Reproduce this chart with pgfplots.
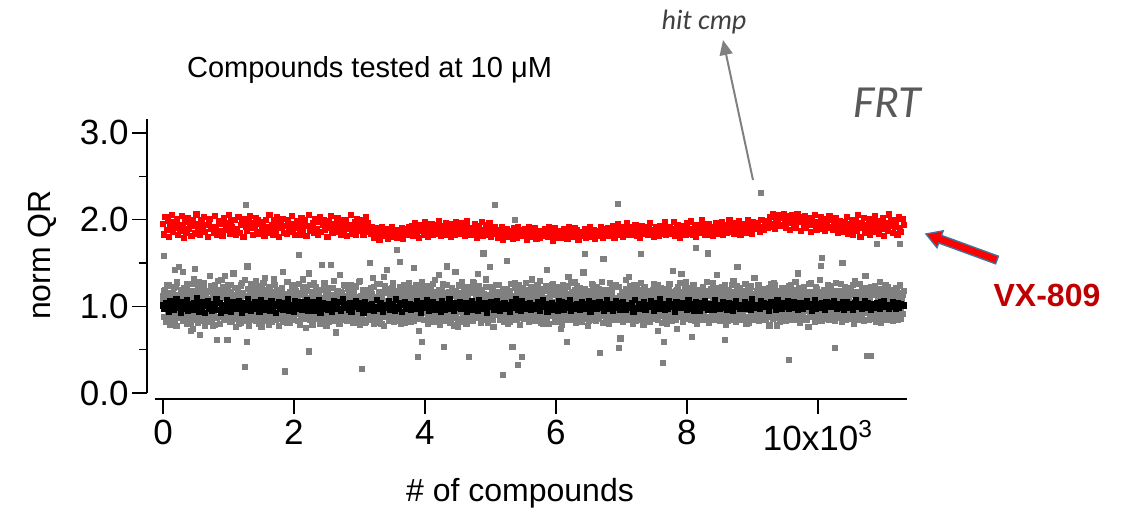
\documentclass[border=0pt]{standalone}
\usepackage{pgfplots}
\pgfplotsset{compat=1.18}
\usepackage{pgfplotstable}
\usepackage{fontspec}
\setmainfont{Liberation Sans}
\newfontfamily\calibri{Carlito}
\usetikzlibrary{arrows.meta}
\definecolor{ptgray}{RGB}{128,128,128}
\definecolor{ptred}{RGB}{255,0,0}
\definecolor{vxred}{RGB}{192,0,0}
\definecolor{arrowblue}{RGB}{65,113,156}
\definecolor{hitgray}{RGB}{64,64,64}
\definecolor{frtgray}{RGB}{89,89,89}

% gray: all compounds (x = index * 11.3)
\pgfplotstableread[row sep=\\]{
y\\
1.05\\1.58\\1.18\\0.98\\1.12\\0.85\\1.24\\1.01\\0.94\\1.09\\
0.93\\1.08\\0.87\\1.15\\0.99\\1.21\\1.42\\1.06\\0.96\\1.27\\
0.90\\1.11\\1.45\\1.03\\1.19\\0.93\\1.07\\1.40\\0.88\\1.14\\
1.00\\0.84\\1.23\\0.97\\1.10\\0.89\\1.17\\1.02\\0.72\\1.26\\
0.95\\1.09\\0.86\\1.43\\1.04\\0.92\\1.13\\0.81\\1.28\\0.99\\
0.67\\1.06\\0.90\\1.16\\0.83\\1.22\\1.01\\0.94\\1.12\\0.87\\
1.05\\1.18\\0.96\\1.35\\0.85\\1.08\\1.00\\0.78\\1.15\\0.93\\
1.25\\1.04\\0.88\\0.61\\1.11\\1.19\\0.97\\1.07\\0.91\\1.30\\
1.02\\0.89\\1.14\\0.98\\1.20\\0.84\\1.06\\0.61\\1.24\\0.95\\
1.10\\0.82\\1.17\\1.03\\0.92\\1.38\\0.99\\1.13\\0.86\\1.08\\
0.94\\1.21\\1.00\\0.80\\1.15\\1.05\\0.90\\1.27\\0.97\\1.12\\
0.87\\0.30\\2.17\\0.59\\1.46\\1.09\\0.93\\1.18\\1.02\\0.85\\
1.23\\0.99\\1.07\\0.91\\1.14\\0.83\\1.29\\1.04\\0.96\\1.11\\
0.88\\1.16\\1.01\\0.76\\1.20\\0.94\\1.08\\0.86\\1.33\\1.03\\
0.97\\1.13\\0.89\\1.22\\1.06\\0.92\\1.17\\0.82\\1.10\\1.00\\
1.26\\0.95\\1.05\\0.84\\1.19\\1.02\\0.90\\1.14\\0.98\\1.08\\
0.87\\1.21\\1.40\\0.93\\1.11\\0.25\\1.04\\0.81\\1.28\\0.96\\
1.12\\1.00\\0.88\\1.16\\0.94\\1.07\\0.85\\1.24\\1.02\\0.91\\
1.18\\0.97\\1.09\\0.83\\1.59\\1.05\\0.92\\1.15\\0.99\\1.31\\
0.89\\1.13\\1.03\\0.95\\1.20\\0.86\\1.10\\0.48\\1.01\\1.25\\
0.93\\1.06\\0.79\\1.17\\0.98\\1.12\\0.90\\1.22\\1.04\\0.87\\
1.14\\0.96\\1.08\\0.84\\1.19\\1.48\\1.00\\0.92\\1.27\\1.05\\
0.88\\1.11\\0.97\\1.16\\0.82\\1.09\\1.02\\1.48\\0.94\\1.21\\
1.06\\0.85\\1.13\\0.99\\0.70\\1.18\\0.91\\1.07\\1.01\\1.36\\
0.95\\1.15\\0.87\\1.10\\1.03\\0.93\\1.24\\0.98\\1.12\\0.83\\
1.08\\0.96\\1.20\\0.89\\1.14\\1.00\\0.86\\1.17\\0.94\\1.05\\
1.23\\0.90\\1.11\\0.97\\1.06\\0.84\\1.29\\1.02\\0.92\\0.28\\
1.16\\0.99\\1.09\\0.81\\1.13\\1.04\\0.95\\1.19\\0.88\\1.07\\
1.50\\0.93\\1.14\\1.01\\0.86\\1.22\\0.97\\1.10\\0.91\\1.26\\
1.03\\0.87\\1.17\\0.96\\1.08\\0.80\\1.12\\1.00\\1.34\\0.94\\
1.06\\1.19\\0.89\\1.42\\1.02\\0.92\\1.15\\0.85\\1.09\\0.98\\
1.21\\0.95\\1.04\\0.90\\1.13\\0.83\\1.65\\1.07\\0.97\\1.18\\
1.51\\0.88\\1.11\\1.00\\0.93\\1.24\\1.05\\0.86\\1.16\\0.94\\
1.10\\0.99\\1.27\\0.91\\1.06\\0.82\\1.14\\1.02\\0.96\\1.44\\
0.89\\1.20\\1.03\\0.95\\0.42\\1.12\\0.87\\1.08\\1.00\\1.23\\
0.59\\0.93\\1.15\\0.84\\1.09\\0.97\\1.18\\1.04\\0.90\\1.13\\
1.01\\0.86\\1.22\\0.96\\1.07\\0.92\\1.11\\1.30\\0.99\\1.16\\
0.88\\1.05\\0.94\\1.19\\0.81\\1.10\\1.02\\0.95\\1.26\\1.08\\
0.53\\0.91\\1.14\\1.00\\1.46\\0.87\\1.17\\0.97\\1.06\\0.84\\
1.21\\1.03\\0.93\\1.12\\0.98\\1.40\\0.89\\1.09\\1.01\\0.76\\
1.15\\0.94\\1.07\\0.85\\1.24\\1.02\\0.96\\1.18\\0.90\\1.11\\
1.04\\0.88\\1.13\\0.42\\0.99\\1.20\\0.92\\1.06\\0.83\\1.28\\
1.00\\1.16\\0.95\\1.09\\0.87\\1.14\\1.37\\0.97\\1.05\\0.91\\
1.19\\1.02\\0.86\\1.61\\1.10\\0.94\\1.22\\0.98\\1.07\\0.89\\
1.13\\0.96\\1.45\\1.04\\0.92\\1.17\\0.84\\1.08\\1.00\\2.17\\
1.25\\0.90\\1.11\\0.97\\1.06\\0.88\\1.15\\1.02\\0.93\\0.21\\
1.09\\0.99\\1.20\\0.85\\1.14\\1.52\\0.95\\1.07\\0.82\\1.18\\
1.03\\0.91\\0.53\\1.12\\0.96\\2.00\\1.27\\1.01\\0.89\\1.10\\
0.32\\0.94\\1.16\\1.05\\0.87\\0.42\\1.21\\0.98\\1.08\\0.92\\
1.14\\1.00\\0.86\\1.19\\0.95\\1.06\\0.90\\1.13\\1.03\\1.31\\
0.97\\1.09\\0.84\\1.17\\1.01\\0.93\\1.24\\0.88\\1.11\\0.99\\
1.06\\0.92\\1.15\\0.80\\1.20\\1.04\\0.96\\1.10\\0.87\\1.42\\
1.02\\1.18\\0.94\\1.07\\0.89\\1.13\\0.99\\1.26\\0.91\\1.05\\
0.85\\1.16\\1.00\\0.95\\1.22\\1.08\\0.90\\1.12\\0.74\\1.03\\
1.19\\0.96\\1.09\\0.87\\1.14\\1.01\\0.59\\1.23\\0.93\\1.06\\
0.98\\1.11\\0.84\\1.17\\1.04\\0.92\\1.28\\0.97\\1.08\\0.89\\
1.15\\1.00\\0.94\\1.21\\0.86\\1.10\\1.03\\0.95\\1.39\\1.07\\
1.60\\0.91\\1.13\\0.99\\1.05\\0.83\\1.18\\1.02\\0.96\\1.12\\
0.88\\1.24\\1.06\\0.93\\1.16\\1.00\\0.87\\1.09\\0.97\\1.20\\
0.46\\1.04\\0.90\\1.14\\1.01\\1.55\\1.11\\0.95\\1.07\\0.85\\
1.19\\0.98\\1.10\\0.92\\1.27\\1.03\\0.89\\1.15\\0.96\\1.08\\
1.00\\0.86\\1.22\\1.05\\0.94\\2.18\\0.52\\1.12\\0.63\\0.99\\
1.17\\0.91\\1.06\\0.97\\1.13\\0.84\\1.20\\1.02\\0.95\\1.34\\
1.09\\0.88\\1.16\\1.01\\0.93\\1.11\\0.98\\1.25\\0.87\\1.04\\
0.96\\1.14\\1.03\\0.90\\1.19\\1.07\\1.60\\0.85\\1.10\\1.00\\
1.22\\0.94\\1.08\\0.97\\1.15\\0.82\\1.12\\1.04\\0.92\\1.18\\
0.99\\1.06\\0.89\\1.26\\1.01\\0.95\\1.13\\0.88\\1.09\\0.72\\
1.16\\1.02\\0.93\\1.11\\0.97\\0.35\\1.20\\0.59\\1.05\\0.90\\
1.14\\0.86\\1.07\\0.99\\1.23\\1.03\\0.91\\1.17\\0.95\\1.41\\
1.08\\0.96\\1.12\\0.84\\1.19\\1.00\\0.92\\1.10\\0.98\\1.27\\
0.89\\1.15\\1.04\\0.93\\1.09\\0.87\\1.21\\1.01\\0.95\\1.13\\
1.06\\0.91\\1.18\\0.97\\1.11\\0.65\\1.02\\1.24\\0.88\\1.07\\
1.67\\0.99\\1.14\\0.85\\1.10\\1.03\\0.94\\1.19\\0.92\\1.05\\
1.16\\0.90\\1.08\\1.00\\0.96\\1.28\\1.61\\0.87\\1.12\\0.98\\
1.04\\1.20\\0.93\\1.09\\0.86\\1.15\\1.01\\0.95\\1.36\\1.07\\
0.91\\1.13\\0.99\\1.05\\0.88\\1.22\\1.02\\0.94\\1.17\\0.61\\
1.10\\0.97\\1.14\\0.83\\1.19\\1.04\\0.92\\1.08\\1.00\\1.25\\
0.95\\1.11\\0.89\\1.16\\1.03\\0.93\\1.45\\0.98\\1.07\\0.86\\
1.21\\1.01\\0.94\\1.12\\0.90\\1.06\\0.97\\1.18\\0.84\\1.09\\
1.02\\0.96\\1.15\\0.88\\1.23\\1.05\\0.92\\1.10\\0.99\\1.33\\
0.93\\1.14\\1.00\\0.87\\1.08\\1.19\\0.95\\1.04\\2.31\\1.12\\
0.91\\1.17\\0.98\\1.06\\0.85\\1.13\\1.02\\0.94\\1.20\\1.07\\
0.89\\1.10\\1.26\\0.96\\1.03\\0.92\\1.15\\0.99\\1.08\\0.78\\
1.18\\1.01\\0.93\\1.12\\0.97\\1.05\\0.86\\1.21\\1.04\\0.95\\
1.09\\0.90\\1.16\\0.98\\1.13\\1.02\\0.38\\0.94\\1.24\\1.06\\
0.88\\1.11\\1.00\\1.19\\0.92\\1.07\\0.96\\1.14\\1.38\\1.03\\
0.97\\1.15\\0.87\\1.10\\1.01\\0.93\\1.22\\0.99\\1.08\\0.85\\
1.17\\1.04\\0.95\\1.12\\0.90\\1.27\\1.02\\0.96\\1.09\\0.88\\
1.13\\1.00\\0.94\\1.20\\1.05\\0.91\\1.16\\0.98\\1.11\\1.47\\
1.56\\0.92\\1.07\\0.97\\1.14\\0.86\\1.19\\1.03\\0.95\\1.10\\
1.01\\1.23\\0.90\\1.08\\0.96\\1.15\\0.99\\1.05\\0.52\\1.12\\
0.94\\1.18\\1.02\\0.88\\1.10\\0.97\\1.26\\1.06\\1.50\\0.93\\
1.14\\0.99\\1.07\\0.85\\1.21\\1.03\\0.95\\1.11\\0.91\\1.17\\
1.00\\0.87\\1.13\\1.05\\0.96\\1.29\\0.93\\1.09\\1.02\\0.89\\
1.16\\0.98\\1.08\\0.92\\1.19\\1.04\\0.95\\1.12\\0.84\\1.35\\
1.06\\0.43\\1.15\\0.97\\1.10\\0.90\\0.43\\1.22\\1.01\\0.94\\
1.13\\1.03\\0.88\\1.17\\0.99\\1.72\\1.07\\0.92\\1.20\\1.05\\
0.96\\1.11\\1.02\\0.86\\1.14\\0.98\\1.24\\1.04\\0.93\\1.09\\
1.18\\0.95\\1.06\\1.00\\0.90\\1.16\\1.08\\0.97\\1.12\\0.87\\
1.03\\1.21\\0.94\\1.10\\1.00\\1.15\\1.72\\0.98\\1.07\\1.13\\
}\grayT

% gray, second half of the compounds (x = index * 14.15 + 6)
\pgfplotstableread[row sep=\\]{
y\\
1.12\\0.88\\1.19\\0.82\\1.09\\0.91\\1.25\\0.79\\1.15\\0.85\\
0.90\\1.10\\0.84\\1.22\\0.77\\1.28\\0.87\\1.13\\0.92\\1.17\\
1.08\\0.83\\1.21\\0.89\\1.14\\0.80\\1.26\\0.86\\1.11\\0.93\\
0.81\\1.18\\0.74\\1.32\\0.88\\1.16\\0.84\\1.24\\0.90\\1.10\\
1.20\\0.86\\1.13\\0.91\\1.27\\0.78\\1.09\\0.85\\1.17\\0.82\\
0.89\\1.23\\0.83\\1.11\\0.92\\1.15\\0.79\\1.19\\0.87\\1.29\\
1.14\\0.80\\1.10\\0.88\\1.22\\0.84\\1.35\\0.90\\1.12\\0.86\\
0.85\\1.16\\0.91\\1.25\\0.82\\1.09\\0.88\\1.21\\0.76\\1.13\\
1.18\\0.92\\1.11\\0.81\\1.24\\0.87\\1.15\\0.83\\1.30\\0.89\\
0.84\\1.20\\0.78\\1.12\\0.90\\1.26\\0.86\\1.08\\0.93\\1.17\\
1.10\\0.87\\1.23\\0.80\\1.16\\0.92\\1.13\\0.84\\1.27\\0.89\\
0.83\\1.19\\0.88\\1.09\\0.79\\1.22\\0.91\\1.15\\0.85\\1.31\\
1.25\\0.90\\1.12\\0.86\\1.18\\0.77\\1.10\\0.93\\1.21\\0.82\\
0.88\\1.14\\0.84\\1.28\\0.90\\1.11\\0.81\\1.17\\0.87\\1.24\\
1.09\\0.85\\1.20\\0.92\\1.13\\0.83\\1.26\\0.79\\1.15\\0.89\\
0.91\\1.22\\0.86\\1.12\\0.75\\1.18\\0.88\\1.38\\0.84\\1.10\\
1.16\\0.82\\1.27\\0.89\\1.11\\0.86\\1.19\\0.91\\1.14\\0.80\\
0.87\\1.10\\0.92\\1.23\\0.84\\1.15\\0.78\\1.21\\0.90\\1.13\\
1.21\\0.89\\1.08\\0.83\\1.29\\0.88\\1.12\\0.85\\1.18\\0.92\\
0.80\\1.17\\0.87\\1.14\\0.91\\1.25\\0.84\\1.10\\0.86\\1.20\\
1.13\\0.91\\1.24\\0.85\\1.09\\0.81\\1.16\\0.88\\1.22\\0.84\\
0.86\\1.28\\0.79\\1.12\\0.89\\1.19\\0.93\\1.15\\0.82\\1.11\\
1.18\\0.84\\1.14\\0.90\\1.21\\0.87\\1.33\\0.80\\1.10\\0.91\\
0.92\\1.11\\0.85\\1.26\\0.81\\1.13\\0.88\\1.17\\0.77\\1.23\\
1.15\\0.88\\1.20\\0.83\\1.12\\0.90\\1.09\\0.86\\1.27\\0.82\\
0.89\\1.16\\0.84\\1.10\\0.92\\1.22\\0.80\\1.14\\0.87\\1.19\\
1.24\\0.81\\1.13\\0.88\\1.17\\0.85\\1.21\\0.91\\1.11\\0.86\\
0.83\\1.09\\0.90\\1.25\\0.86\\1.15\\0.72\\1.12\\0.89\\1.28\\
1.11\\0.93\\1.18\\0.84\\1.23\\0.80\\1.14\\0.87\\1.20\\0.90\\
0.88\\1.26\\0.82\\1.16\\0.91\\1.10\\0.85\\1.36\\0.79\\1.13\\
1.19\\0.86\\1.12\\0.92\\1.15\\0.83\\1.25\\0.89\\1.09\\0.81\\
0.90\\1.21\\0.87\\1.14\\0.78\\1.18\\0.92\\1.11\\0.84\\1.24\\
1.10\\0.82\\1.28\\0.89\\1.13\\0.86\\1.17\\0.80\\1.22\\0.88\\
0.85\\1.15\\0.91\\1.20\\0.83\\1.27\\0.87\\1.12\\0.90\\1.16\\
1.23\\0.88\\1.11\\0.81\\1.19\\0.92\\1.14\\0.85\\1.31\\0.84\\
0.81\\1.13\\0.86\\1.09\\0.89\\1.22\\0.76\\1.17\\0.91\\1.12\\
1.16\\0.90\\1.25\\0.84\\1.10\\0.87\\1.20\\0.82\\1.15\\0.93\\
0.87\\1.19\\0.80\\1.13\\0.92\\1.26\\0.85\\1.11\\0.88\\1.21\\
1.12\\0.84\\1.17\\0.90\\1.24\\0.79\\1.09\\0.91\\1.18\\0.86\\
0.92\\1.27\\0.88\\1.15\\0.82\\1.12\\0.90\\1.22\\0.85\\1.10\\
1.20\\0.83\\1.14\\0.89\\1.11\\0.86\\1.29\\0.81\\1.16\\0.90\\
0.84\\1.10\\0.91\\1.23\\0.87\\1.18\\0.80\\1.13\\0.93\\1.25\\
1.15\\0.89\\1.21\\0.82\\1.16\\0.92\\1.12\\0.88\\1.09\\0.85\\
0.79\\1.24\\0.86\\1.17\\0.90\\1.11\\0.84\\1.34\\0.88\\1.14\\
1.27\\0.91\\1.10\\0.85\\1.19\\0.81\\1.23\\0.87\\1.13\\0.83\\
0.88\\1.16\\0.82\\1.12\\0.93\\1.20\\0.86\\1.15\\0.77\\1.18\\
1.11\\0.85\\1.26\\0.90\\1.14\\0.88\\1.17\\0.83\\1.22\\0.92\\
0.86\\1.13\\0.89\\1.28\\0.81\\1.09\\0.91\\1.19\\0.84\\1.12\\
1.18\\0.80\\1.15\\0.87\\1.21\\0.90\\1.10\\0.85\\1.25\\0.88\\
0.91\\1.22\\0.84\\1.11\\0.86\\1.16\\0.82\\1.14\\0.89\\1.30\\
1.14\\0.87\\1.09\\0.92\\1.23\\0.84\\1.18\\0.80\\1.12\\0.90\\
0.83\\1.20\\0.88\\1.15\\0.91\\1.27\\0.86\\1.10\\0.79\\1.17\\
1.22\\0.90\\1.13\\0.85\\1.16\\0.82\\1.11\\0.89\\1.19\\0.86\\
0.87\\1.12\\0.93\\1.24\\0.84\\1.14\\0.89\\1.21\\0.81\\1.09\\
1.17\\0.86\\1.20\\0.80\\1.13\\0.91\\1.26\\0.87\\1.15\\0.83\\
0.90\\1.10\\0.85\\1.18\\0.74\\1.22\\0.88\\1.13\\0.92\\1.37\\
1.12\\0.82\\1.16\\0.89\\1.28\\0.86\\1.11\\0.90\\1.21\\0.84\\
0.88\\1.25\\0.91\\1.09\\0.83\\1.17\\0.80\\1.14\\0.87\\1.19\\
1.15\\0.92\\1.22\\0.84\\1.10\\0.88\\1.18\\0.85\\1.13\\0.81\\
0.85\\1.14\\0.87\\1.27\\0.90\\1.12\\0.84\\1.20\\0.89\\1.11\\
1.21\\0.83\\1.10\\0.91\\1.16\\0.86\\1.24\\0.79\\1.18\\0.88\\
0.92\\1.17\\0.84\\1.13\\0.87\\1.29\\0.90\\1.09\\0.82\\1.23\\
1.13\\0.89\\1.19\\0.85\\1.12\\0.92\\1.15\\0.88\\1.26\\0.80\\
0.86\\1.22\\0.81\\1.16\\0.91\\1.10\\0.87\\1.33\\0.84\\1.14\\
1.18\\0.90\\1.25\\0.83\\1.11\\0.85\\1.20\\0.92\\1.12\\0.87\\
0.84\\1.09\\0.88\\1.21\\0.78\\1.17\\0.91\\1.14\\0.86\\1.27\\
1.24\\0.87\\1.13\\0.90\\1.18\\0.82\\1.10\\0.85\\1.16\\0.91\\
0.89\\1.15\\0.83\\1.11\\0.92\\1.23\\0.85\\1.19\\0.88\\1.12\\
1.10\\0.84\\1.28\\0.88\\1.14\\0.90\\1.21\\0.81\\1.17\\0.86\\
0.91\\1.20\\0.86\\1.15\\0.84\\1.12\\0.76\\1.26\\0.90\\1.09\\
1.16\\0.88\\1.11\\0.82\\1.22\\0.87\\1.14\\0.91\\1.30\\0.85\\
0.83\\1.13\\0.90\\1.19\\0.86\\1.10\\0.92\\1.24\\0.84\\1.17\\
1.21\\0.86\\1.15\\0.89\\1.09\\0.83\\1.27\\0.88\\1.12\\0.90\\
0.87\\1.18\\0.82\\1.14\\0.91\\1.22\\0.85\\1.11\\0.89\\1.16\\
1.13\\0.91\\1.20\\0.86\\1.25\\0.80\\1.17\\0.87\\1.10\\0.84\\
0.90\\1.26\\0.85\\1.12\\0.88\\1.15\\0.83\\1.21\\0.92\\1.14\\
1.19\\0.84\\1.10\\0.91\\1.16\\0.89\\1.13\\0.86\\1.23\\0.82\\
0.86\\1.12\\0.89\\1.28\\0.81\\1.18\\0.90\\1.15\\0.85\\1.20\\
1.14\\0.92\\1.22\\0.84\\1.11\\0.87\\1.19\\0.83\\1.16\\0.89\\
0.88\\1.17\\0.85\\1.13\\0.90\\1.24\\0.86\\1.10\\0.91\\1.18\\
}\grayU

% black: controls (x = index * 22.66)
\pgfplotstableread[row sep=\\]{
y\\
1.01\\0.97\\1.04\\0.99\\0.94\\1.06\\1.00\\0.96\\1.03\\1.08\\
0.98\\1.02\\0.93\\1.05\\1.00\\0.97\\1.07\\0.95\\1.01\\1.03\\
0.96\\1.04\\0.99\\1.09\\0.94\\1.02\\0.98\\1.05\\0.92\\1.00\\
1.06\\0.97\\1.03\\0.95\\1.01\\0.99\\1.08\\0.96\\1.04\\0.93\\
1.02\\1.00\\0.95\\1.07\\0.98\\1.03\\0.94\\1.05\\0.99\\1.01\\
0.97\\1.06\\1.00\\0.93\\1.04\\0.96\\1.02\\1.08\\0.98\\0.95\\
1.03\\0.99\\1.05\\0.97\\1.01\\0.94\\1.07\\1.00\\0.96\\1.04\\
0.98\\1.02\\0.95\\1.06\\0.99\\1.03\\0.92\\1.01\\1.05\\0.97\\
1.00\\0.96\\1.04\\0.98\\1.08\\0.95\\1.02\\0.99\\0.94\\1.06\\
1.03\\0.97\\1.01\\1.05\\0.96\\1.00\\0.98\\1.07\\0.95\\1.02\\
0.99\\1.05\\0.95\\1.02\\0.98\\1.07\\0.93\\1.01\\1.04\\0.97\\
1.01\\0.96\\1.03\\1.00\\0.94\\1.06\\0.99\\1.02\\0.97\\1.05\\
0.95\\1.08\\0.98\\1.01\\1.03\\0.96\\1.04\\0.94\\1.00\\1.02\\
1.06\\0.99\\0.97\\1.04\\1.01\\0.93\\1.05\\0.98\\1.02\\0.96\\
1.00\\1.03\\0.95\\0.99\\1.07\\0.97\\1.01\\1.04\\0.94\\1.02\\
0.98\\1.01\\1.06\\0.96\\1.00\\1.03\\0.95\\1.08\\0.99\\0.97\\
1.04\\0.94\\1.02\\1.05\\0.97\\1.00\\1.03\\0.96\\1.01\\0.99\\
0.97\\1.06\\0.99\\1.02\\0.93\\1.04\\0.98\\1.01\\1.07\\0.95\\
1.02\\0.98\\1.05\\0.96\\1.03\\0.99\\1.00\\0.94\\1.06\\1.01\\
0.96\\1.03\\1.00\\1.08\\0.97\\1.02\\0.95\\1.04\\0.98\\1.00\\
1.05\\0.97\\1.01\\0.99\\1.04\\0.94\\1.02\\0.98\\1.06\\0.96\\
1.00\\1.03\\0.95\\1.07\\0.98\\1.01\\0.97\\1.04\\0.93\\1.02\\
0.99\\1.05\\1.02\\0.96\\1.00\\1.06\\0.98\\0.95\\1.03\\1.01\\
1.04\\0.97\\0.99\\1.02\\0.94\\1.05\\1.01\\0.98\\1.08\\0.96\\
1.01\\0.95\\1.06\\1.00\\1.03\\0.97\\0.99\\1.04\\0.96\\1.02\\
0.97\\1.02\\0.98\\1.05\\0.95\\1.01\\1.07\\0.99\\1.03\\0.94\\
1.03\\0.99\\1.04\\0.96\\1.02\\0.98\\0.95\\1.06\\1.00\\1.05\\
0.96\\1.01\\0.98\\1.04\\1.07\\0.95\\1.02\\0.97\\1.00\\1.03\\
1.02\\0.96\\1.05\\0.99\\0.97\\1.03\\1.00\\1.06\\0.94\\1.01\\
0.99\\1.04\\0.97\\1.01\\1.05\\0.98\\1.03\\0.95\\1.02\\1.07\\
1.00\\0.97\\1.03\\0.95\\1.01\\1.06\\0.98\\1.02\\0.96\\1.04\\
1.05\\0.99\\0.96\\1.02\\0.98\\1.00\\1.04\\0.94\\1.07\\0.97\\
0.98\\1.03\\1.01\\0.97\\1.05\\0.96\\1.02\\0.99\\1.00\\1.06\\
1.02\\0.95\\1.04\\1.00\\0.97\\1.08\\0.99\\1.03\\0.96\\1.01\\
0.97\\1.06\\0.99\\1.03\\1.01\\0.94\\1.05\\0.98\\1.02\\1.00\\
1.04\\0.98\\1.02\\0.96\\1.07\\1.00\\0.97\\1.03\\0.95\\1.05\\
0.99\\1.01\\0.95\\1.04\\0.98\\1.06\\1.02\\0.96\\1.03\\0.97\\
1.03\\0.96\\1.07\\0.99\\1.02\\0.97\\1.00\\1.05\\0.98\\1.04\\
0.96\\1.04\\1.00\\1.02\\0.95\\1.03\\1.06\\0.99\\1.01\\0.97\\
1.01\\0.99\\1.05\\0.97\\1.03\\1.00\\0.96\\1.08\\1.02\\0.98\\
0.98\\1.02\\0.97\\1.06\\1.00\\1.04\\0.99\\1.01\\0.95\\1.03\\
1.05\\1.00\\1.02\\0.96\\1.07\\0.98\\1.03\\0.97\\1.04\\1.01\\
0.99\\1.06\\0.97\\1.03\\0.98\\1.05\\1.00\\1.02\\0.96\\1.04\\
1.02\\0.97\\1.04\\1.00\\1.06\\0.99\\1.03\\0.95\\1.01\\1.07\\
0.97\\1.03\\1.01\\0.98\\1.04\\1.02\\0.96\\1.05\\1.00\\0.99\\
1.04\\0.99\\1.06\\1.02\\0.97\\1.03\\1.01\\0.98\\1.05\\0.96\\
1.00\\1.05\\0.98\\1.03\\1.01\\0.96\\1.04\\1.07\\0.99\\1.02\\
1.03\\0.97\\1.02\\1.06\\0.98\\1.04\\1.00\\0.96\\1.03\\1.01\\
0.98\\1.04\\1.00\\0.97\\1.05\\1.01\\1.06\\0.99\\1.02\\0.97\\
1.02\\0.99\\1.05\\1.01\\0.97\\1.04\\0.98\\1.03\\1.00\\1.01\\
}\blackT

% red: VX-809 (x = index * 18.88)
\pgfplotstableread[row sep=\\]{
y\\
1.95\\1.83\\2.03\\1.88\\1.99\\1.80\\1.93\\2.05\\1.86\\1.97\\
1.90\\2.01\\1.82\\1.94\\1.87\\2.04\\1.91\\1.79\\1.98\\1.85\\
2.02\\1.89\\1.96\\1.81\\2.00\\1.93\\1.84\\2.06\\1.88\\1.95\\
1.83\\1.99\\1.91\\2.03\\1.86\\1.94\\1.80\\1.97\\2.01\\1.89\\
1.92\\1.85\\2.04\\1.90\\1.82\\1.98\\1.87\\1.95\\1.81\\2.02\\
1.96\\1.88\\1.93\\2.05\\1.84\\1.99\\1.91\\1.86\\2.00\\1.83\\
1.89\\2.03\\1.85\\1.94\\1.97\\1.80\\2.01\\1.92\\1.87\\1.98\\
2.04\\1.90\\1.96\\1.82\\1.93\\2.02\\1.86\\1.99\\1.84\\1.95\\
1.88\\1.97\\1.81\\2.00\\1.91\\1.85\\2.05\\1.89\\1.94\\1.83\\
1.99\\1.87\\2.03\\1.92\\1.80\\1.96\\1.90\\2.01\\1.85\\1.93\\
1.84\\2.00\\1.89\\1.95\\2.04\\1.86\\1.92\\1.82\\1.98\\1.90\\
1.97\\1.83\\2.02\\1.88\\1.94\\1.99\\1.81\\1.93\\2.05\\1.87\\
1.91\\1.96\\1.85\\2.01\\1.89\\1.82\\1.97\\2.03\\1.86\\1.94\\
2.00\\1.88\\1.93\\1.80\\1.98\\1.91\\2.04\\1.85\\1.95\\1.89\\
1.86\\2.02\\1.90\\1.96\\1.83\\2.00\\1.87\\1.93\\1.99\\1.81\\
1.94\\1.89\\2.05\\1.84\\1.92\\1.97\\1.82\\2.01\\1.88\\1.95\\
1.87\\1.99\\1.83\\1.93\\2.03\\1.86\\1.96\\1.90\\1.84\\1.92\\
1.86\\1.79\\1.90\\1.83\\1.88\\1.77\\1.85\\1.91\\1.81\\1.87\\
1.82\\1.89\\1.78\\1.86\\1.84\\1.92\\1.80\\1.87\\1.83\\1.79\\
1.88\\1.81\\1.85\\1.90\\1.78\\1.84\\1.89\\1.82\\1.86\\1.91\\
1.85\\1.93\\1.81\\1.89\\1.96\\1.84\\1.90\\1.79\\1.94\\1.87\\
1.92\\1.83\\1.97\\1.88\\1.80\\1.91\\1.86\\1.95\\1.82\\1.89\\
1.86\\1.94\\1.84\\1.98\\1.90\\1.81\\1.93\\1.87\\1.83\\1.96\\
1.91\\1.85\\1.89\\1.80\\1.95\\1.88\\1.82\\1.97\\1.86\\1.92\\
1.84\\1.96\\1.87\\1.93\\1.81\\1.90\\1.98\\1.85\\1.89\\1.83\\
1.90\\1.82\\1.95\\1.86\\1.79\\1.93\\1.88\\1.84\\1.97\\1.81\\
1.87\\1.94\\1.83\\1.89\\1.96\\1.80\\1.91\\1.85\\1.92\\1.86\\
1.84\\1.79\\1.88\\1.82\\1.91\\1.77\\1.86\\1.81\\1.89\\1.83\\
1.80\\1.87\\1.83\\1.78\\1.90\\1.85\\1.79\\1.92\\1.82\\1.86\\
1.88\\1.81\\1.85\\1.89\\1.77\\1.84\\1.91\\1.80\\1.86\\1.83\\
1.82\\1.90\\1.78\\1.86\\1.83\\1.79\\1.87\\1.84\\1.81\\1.89\\
1.85\\1.80\\1.92\\1.83\\1.88\\1.76\\1.84\\1.90\\1.79\\1.87\\
1.81\\1.86\\1.84\\1.79\\1.89\\1.82\\1.85\\1.78\\1.91\\1.83\\
1.87\\1.82\\1.80\\1.90\\1.84\\1.88\\1.77\\1.86\\1.83\\1.81\\
1.84\\1.89\\1.79\\1.85\\1.82\\1.91\\1.86\\1.80\\1.88\\1.78\\
1.83\\1.87\\1.85\\1.81\\1.92\\1.84\\1.79\\1.89\\1.82\\1.86\\
1.90\\1.81\\1.87\\1.84\\1.93\\1.79\\1.88\\1.85\\1.95\\1.83\\
1.86\\1.92\\1.80\\1.89\\1.84\\1.96\\1.82\\1.87\\1.91\\1.85\\
1.83\\1.88\\1.94\\1.81\\1.90\\1.86\\1.79\\1.93\\1.87\\1.84\\
1.91\\1.85\\1.82\\1.89\\1.96\\1.83\\1.88\\1.80\\1.86\\1.92\\
1.87\\1.81\\1.93\\1.86\\1.84\\1.90\\1.97\\1.82\\1.89\\1.85\\
1.92\\1.84\\1.89\\1.97\\1.81\\1.88\\1.94\\1.86\\1.79\\1.91\\
1.85\\1.93\\1.87\\1.82\\1.96\\1.89\\1.84\\1.98\\1.88\\1.83\\
1.90\\1.80\\1.94\\1.86\\1.91\\1.85\\1.99\\1.87\\1.82\\1.93\\
1.86\\1.95\\1.83\\1.89\\1.92\\1.81\\1.88\\1.96\\1.84\\1.90\\
1.93\\1.87\\1.97\\1.82\\1.89\\1.94\\1.85\\1.91\\1.99\\1.86\\
1.88\\1.92\\1.84\\1.96\\1.90\\1.86\\1.98\\1.83\\1.93\\1.89\\
1.95\\1.85\\1.91\\1.99\\1.87\\1.93\\1.84\\1.97\\1.90\\1.94\\
1.89\\1.96\\1.92\\1.86\\2.00\\1.91\\1.88\\1.98\\1.94\\1.90\\
1.98\\2.03\\1.92\\2.06\\1.95\\1.89\\2.01\\1.97\\2.05\\1.93\\
2.02\\1.94\\2.07\\1.99\\1.90\\2.04\\1.96\\1.88\\2.00\\2.05\\
1.95\\2.01\\1.91\\2.06\\1.97\\2.03\\1.87\\1.99\\1.93\\2.04\\
1.90\\1.98\\2.02\\1.94\\1.86\\2.00\\1.96\\2.05\\1.92\\1.88\\
1.97\\1.89\\2.03\\1.93\\1.99\\1.87\\2.01\\1.95\\1.90\\2.04\\
1.92\\2.00\\1.88\\1.96\\2.02\\1.91\\1.85\\1.98\\1.94\\1.89\\
1.86\\1.97\\1.91\\2.03\\1.84\\1.95\\1.89\\2.00\\1.82\\1.93\\
1.99\\1.87\\2.05\\1.92\\1.80\\1.96\\1.90\\2.02\\1.85\\1.94\\
1.88\\2.01\\1.83\\1.97\\1.93\\1.86\\2.04\\1.90\\1.98\\1.84\\
1.95\\1.89\\2.02\\1.81\\1.96\\1.91\\1.87\\2.06\\1.93\\1.99\\
1.85\\2.00\\1.92\\1.97\\1.83\\2.03\\1.90\\1.86\\2.01\\1.94\\
}\redT

\begin{document}
\begin{tikzpicture}
\path[use as bounding box] (0,0) rectangle (562pt,255.5pt);
\begin{axis}[
  at={(77.5pt,59pt)}, anchor=south west,
  scale only axis, width=376pt, height=137pt,
  xmin=-122, xmax=11360, ymin=0, ymax=3.16,
  axis x line*=bottom, axis y line*=left,
  axis x line shift=3pt, axis y line shift=4pt,
  tick align=outside,
  major tick length=7.5pt, minor tick length=4pt,
  xtick={0,2000,4000,6000,8000,10000},
  xticklabels={0,2,4,6,8,{10x10\textsuperscript{3}}},
  ytick={0,1,2,3}, yticklabels={0.0,1.0,2.0,3.0},
  minor ytick={0.5,1.5,2.5},
  scaled ticks=false,
  tick label style={font=\fontsize{17.5}{20}\selectfont},
  yticklabel style={inner sep=1.5pt},
  xticklabel style={inner sep=3pt},
  tick style={black, line width=0.7pt},
  axis line style={black, line width=0.7pt},
  clip=false,
]
\addplot[only marks, mark=square*, mark size=1.3pt, color=ptgray, mark options={draw=none}]
  table[x expr=\coordindex*11.3, y=y] {\grayT};
\addplot[only marks, mark=square*, mark size=1.3pt, color=ptgray, mark options={draw=none}]
  table[x expr=\coordindex*14.15+6, y=y] {\grayU};
\addplot[only marks, mark=square*, mark size=1.3pt, color=black, mark options={draw=none}]
  table[x expr=\coordindex*22.66, y=y] {\blackT};
\addplot[only marks, mark=square*, mark size=1.3pt, color=ptred, mark options={draw=none}]
  table[x expr=\coordindex*18.88, y=y] {\redT};
\end{axis}
\begin{scope}[x=0.5pt, y=-0.5pt, shift={(0pt,255.5pt)}]
\node[anchor=west, font=\fontsize{14.5}{17}\selectfont] at (180,70) {Compounds tested at 10 μM};
\node[font=\calibri\itshape\fontsize{14}{17}\selectfont, text=hitgray] at (704,22) {hit cmp};
\node[font=\calibri\itshape\fontsize{23}{27}\selectfont, text=frtgray] at (887,103) {FRT};
\node[font=\bfseries\fontsize{16}{19}\selectfont, text=vxred] at (1047,295) {VX-809};
\node[rotate=90, font=\fontsize{16}{19}\selectfont] at (42,255) {norm QR};
\node[font=\fontsize{16}{19}\selectfont] at (520,493) {\# of compounds};
\draw[-{Triangle[length=7.5pt,width=6.5pt]}, line width=1pt, color=ptgray] (753,180) -- (723,40);
\filldraw[fill=ptred, draw=arrowblue, line width=0.7pt] (998.4,256.2) -- (941.5,235.4) -- (943.2,230.8) -- (926,234) -- (937.0,247.7) -- (938.7,243.0) -- (995.6,263.8) -- cycle;
\end{scope}
\end{tikzpicture}
\end{document}
